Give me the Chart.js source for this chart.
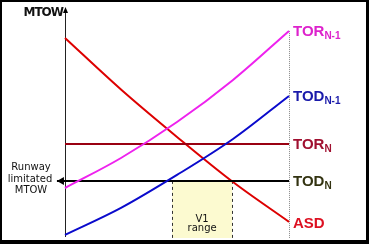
<!DOCTYPE html>
<html>
<head>
<meta charset="utf-8">
<script src="https://cdn.jsdelivr.net/npm/chart.js@4.4.1/dist/chart.umd.min.js"></script>
<style>
  body { margin: 0; background: #fff; }
  #wrap { width: 369px; height: 244px; }
</style>
</head>
<body>
<div id="wrap"><canvas id="myChart" width="369" height="244"></canvas></div>
<script>
'use strict';

// V1 speed (0-100) and MTOW (0-100)
let vSpeed = [0, 25, 50, 75, 100];
let torN1 = [21.4, 34.5, 50.2, 68.6, 90.0];
let todN1 = [0.9, 12.7, 27.1, 42.8, 61.6];
let asd = [86.9, 64.4, 43.7, 24.0, 6.6];
let torN = 40.6;
let todN = 24.5;
let v1Range = [47.8, 74.6];
let todNStart = -3.6;

let seriesLabels = ['TOR', 'TOD', 'TOR', 'TOD', 'ASD'];
let seriesSubs = ['N-1', 'N-1', 'N', 'N', ''];
let labelColors = ['#dd22cc', '#1a1aaa', '#a01030', '#333311', '#dd1122'];

function toPoints(xs, ys) {
  let pts = [];
  for (let i = 0; i < xs.length; i++) {
    pts.push({ x: xs[i], y: ys[i] });
  }
  return pts;
}

// Draw the V1 box, the axis, the dotted end line, labels and frame
let decorPlugin = {
  id: 'decor',
  beforeDatasetsDraw(chart) {
    let ctx = chart.ctx;
    let xs = chart.scales.x;
    let ys = chart.scales.y;
    let bottom = ys.getPixelForValue(0);
    let x1 = xs.getPixelForValue(v1Range[0]);
    let x2 = xs.getPixelForValue(v1Range[1]);
    let yTod = ys.getPixelForValue(todN);
    ctx.save();
    ctx.fillStyle = '#fcfad0';
    ctx.fillRect(x1, yTod, x2 - x1, bottom - yTod + 1);
    ctx.strokeStyle = '#333';
    ctx.lineWidth = 1;
    ctx.setLineDash([3, 3]);
    for (let x of [x1, x2]) {
      ctx.beginPath();
      ctx.moveTo(Math.round(x) + 0.5, yTod);
      ctx.lineTo(Math.round(x) + 0.5, bottom + 1);
      ctx.stroke();
    }
    // dotted line at the end of the curves
    let xe = Math.round(xs.getPixelForValue(100)) + 0.5;
    ctx.strokeStyle = '#888';
    ctx.setLineDash([1, 1]);
    ctx.beginPath();
    ctx.moveTo(xe, ys.getPixelForValue(torN1[torN1.length - 1]));
    ctx.lineTo(xe, bottom + 1);
    ctx.stroke();
    // MTOW axis
    ctx.setLineDash([]);
    let xa = Math.round(xs.getPixelForValue(0)) + 0.5;
    ctx.strokeStyle = '#222';
    ctx.beginPath();
    ctx.moveTo(xa, ys.getPixelForValue(100) + 3);
    ctx.lineTo(xa, bottom);
    ctx.stroke();
    ctx.fillStyle = '#000';
    ctx.beginPath();
    ctx.moveTo(xa, ys.getPixelForValue(100) - 1);
    ctx.lineTo(xa - 2.5, ys.getPixelForValue(100) + 5);
    ctx.lineTo(xa + 2.5, ys.getPixelForValue(100) + 5);
    ctx.closePath();
    ctx.fill();
    ctx.restore();
  },
  afterDatasetsDraw(chart) {
    let ctx = chart.ctx;
    let xs = chart.scales.x;
    let ys = chart.scales.y;
    ctx.save();
    // arrow on TOD N
    let yTod = ys.getPixelForValue(todN);
    let xTip = xs.getPixelForValue(todNStart);
    ctx.fillStyle = '#000';
    ctx.beginPath();
    ctx.moveTo(xTip, yTod);
    ctx.lineTo(xTip + 7, yTod - 4);
    ctx.lineTo(xTip + 7, yTod + 4);
    ctx.closePath();
    ctx.fill();

    // right hand labels
    let ends = [torN1[torN1.length - 1], todN1[todN1.length - 1], torN, todN, asd[asd.length - 1]];
    let xl = xs.getPixelForValue(100) + 4;
    for (let i = 0; i < ends.length; i++) {
      let yl = ys.getPixelForValue(ends[i]) + 5;
      if (i === 4) yl += 1;
      ctx.fillStyle = labelColors[i];
      ctx.font = 'bold 15px "Liberation Sans", Arial, sans-serif';
      ctx.textAlign = 'left';
      ctx.textBaseline = 'alphabetic';
      ctx.fillText(seriesLabels[i], xl, yl);
      let w = ctx.measureText(seriesLabels[i]).width;
      if (seriesSubs[i]) {
        ctx.font = 'bold 10px "Liberation Sans", Arial, sans-serif';
        ctx.fillText(seriesSubs[i], xl + w, yl + 3);
      }
    }

    // left texts
    ctx.fillStyle = '#111';
    ctx.font = 'bold 12px "DejaVu Sans", sans-serif';
    ctx.letterSpacing = '-1px';
    ctx.textAlign = 'right';
    ctx.fillText('MTOW', 63, 16);
    ctx.letterSpacing = '0px';
    ctx.font = '10px "DejaVu Sans", sans-serif';
    ctx.textAlign = 'center';
    ctx.fillText('Runway', 31, 170);
    ctx.fillText('limitated', 30, 182);
    ctx.fillText('MTOW', 31, 193);

    let xm = (xs.getPixelForValue(v1Range[0]) + xs.getPixelForValue(v1Range[1])) / 2;
    ctx.fillText('V1', xm, 222);
    ctx.fillText('range', xm, 231);

    // frame
    ctx.fillStyle = '#000';
    ctx.fillRect(0, 0, 369, 2);
    ctx.fillRect(0, 0, 2, 244);
    ctx.fillRect(366, 0, 3, 244);
    ctx.fillRect(0, 240, 369, 4);
    ctx.restore();
  }
};

let chartObject = {
  type: 'line',
  data: {
    datasets: [{
      label: 'TOR N-1',
      data: toPoints(vSpeed, torN1),
      borderColor: '#ee22ee',
      borderWidth: 2,
      cubicInterpolationMode: 'monotone'
    },
    {
      label: 'TOD N-1',
      data: toPoints(vSpeed, todN1),
      borderColor: '#0a0acc',
      borderWidth: 2,
      cubicInterpolationMode: 'monotone'
    },
    {
      label: 'TOR N',
      data: [{ x: 0, y: torN }, { x: 100, y: torN }],
      borderColor: '#990011',
      borderWidth: 2
    },
    {
      label: 'TOD N',
      data: [{ x: todNStart, y: todN }, { x: 100, y: todN }],
      borderColor: '#000',
      borderWidth: 2
    },
    {
      label: 'ASD',
      data: toPoints(vSpeed, asd),
      borderColor: '#dd0000',
      borderWidth: 2,
      cubicInterpolationMode: 'monotone'
    }]
  },
  options: {
    responsive: false,
    animation: false,
    clip: false,
    layout: { padding: { left: 65, right: 80, top: 8, bottom: 7 } },
    elements: { point: { radius: 0 } },
    plugins: { legend: { display: false }, tooltip: { enabled: false } },
    scales: {
      x: { type: 'linear', min: 0, max: 100, display: false },
      y: { min: 0, max: 100, display: false }
    }
  },
  plugins: [decorPlugin]
};

let ctx = document.getElementById('myChart').getContext('2d');
let myChart = new Chart(ctx, chartObject);
</script>
</body>
</html>
